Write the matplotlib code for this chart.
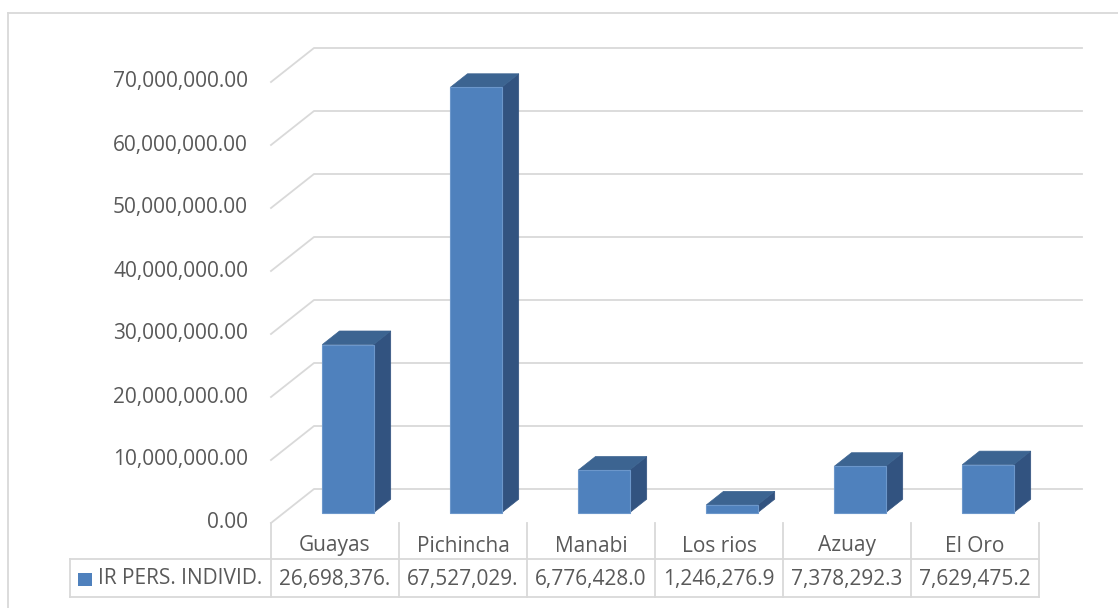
import matplotlib
matplotlib.use("Agg")
import matplotlib.pyplot as plt
from matplotlib.patches import Polygon, Rectangle
from matplotlib.lines import Line2D

# data
categories = ["Guayas", "Pichincha", "Manabi", "Los rios", "Azuay", "El Oro"]
values = [26698376.0, 67527029.0, 6776428.0, 1246276.9, 7378292.3, 7629475.2]
series_name = "IR PERS. INDIVID."
y_ticks = [0, 10e6, 20e6, 30e6, 40e6, 50e6, 60e6, 70e6]

# table cells show truncated numbers like Excel does
value_labels = [f"{v:,.2f}"[:11] for v in values]

FRONT = "#4F81BD"
TOP = "#3C6491"
SIDE = "#325380"
GRID = "#D9D9D9"
TEXT = "#595959"
FONT = "Open Sans"
FS = 15

W, H = 1118, 608
X0_PX, Y0_PX = 271, 523      # front-left corner of floor
CAT_PX = 128                 # pixels per category
VAL_PX = 6.3e-6              # pixels per unit of value
DX = 43 / CAT_PX             # depth offset in x units
DY = 34 / VAL_PX             # depth offset in value units

fig = plt.figure(figsize=(W / 100, H / 100), dpi=100)
ax = fig.add_axes([0, 0, 1, 1])
ax.set_xlim(-X0_PX / CAT_PX, (W - X0_PX) / CAT_PX)
ax.set_ylim(-(H - Y0_PX) / VAL_PX, Y0_PX / VAL_PX)
ax.axis("off")


def px_x(p):
    return (p - X0_PX) / CAT_PX


def px_y(p):
    return (Y0_PX - p) / VAL_PX


# chart border (only top and left fall inside the picture)
fig.add_artist(Line2D([8 / W, 1], [1 - 13 / H, 1 - 13 / H], color=GRID, lw=1.3))
fig.add_artist(Line2D([8 / W, 8 / W], [0, 1 - 13 / H], color=GRID, lw=1.3))

n = len(categories)

# gridlines: diagonal on the left wall, then along the back wall
for v in y_ticks:
    ax.plot([0, DX, n + DX], [v, v + DY, v + DY], color=GRID, lw=1.3, zorder=1)
    ax.text(px_x(248), v, f"{v:,.2f}", ha="right", va="center",
            color=TEXT, fontsize=FS, family=FONT)

# 3d-looking bars
d0, d1 = 0.3, 0.7
for i, v in enumerate(values):
    xa, xb = i + 0.3, i + 0.7
    fx, fy = d0 * DX, d0 * DY
    bx, by = d1 * DX, d1 * DY
    side = Polygon([(xb + fx, fy), (xb + bx, by), (xb + bx, v + by), (xb + fx, v + fy)],
                   closed=True, facecolor=SIDE, edgecolor=SIDE, lw=0.5, zorder=3)
    top = Polygon([(xa + fx, v + fy), (xb + fx, v + fy), (xb + bx, v + by), (xa + bx, v + by)],
                  closed=True, facecolor=TOP, edgecolor=TOP, lw=0.5, zorder=3)
    front = Polygon([(xa + fx, fy), (xb + fx, fy), (xb + fx, v + fy), (xa + fx, v + fy)],
                    closed=True, facecolor=FRONT, edgecolor="#6C97CB", lw=0.8, zorder=4)
    ax.add_patch(side)
    ax.add_patch(top)
    ax.add_patch(front)

# data table
row1 = px_y(559)
row2 = px_y(597)
left = px_x(70)
for i in range(n + 1):
    ax.plot([i, i], [0, row2], color=GRID, lw=1.3, zorder=1)
ax.plot([left, n], [row1, row1], color=GRID, lw=1.3, zorder=1)
ax.plot([left, n], [row2, row2], color=GRID, lw=1.3, zorder=1)
ax.plot([left, left], [row1, row2], color=GRID, lw=1.3, zorder=1)

for i, (c, lab) in enumerate(zip(categories, value_labels)):
    ax.text(i + 0.5, px_y(546), c, ha="center", va="center",
            color=TEXT, fontsize=FS, family=FONT)
    ax.text(i + 0.5, px_y(579), lab, ha="center", va="center",
            color=TEXT, fontsize=FS, family=FONT)

ax.add_patch(Rectangle((px_x(78), px_y(586)), 14 / CAT_PX, 13 / VAL_PX,
                       facecolor=FRONT, edgecolor="none", zorder=3))
ax.text(px_x(98), px_y(579), series_name, ha="left", va="center",
        color=TEXT, fontsize=FS, family=FONT)

fig.savefig("out.png", dpi=100)
